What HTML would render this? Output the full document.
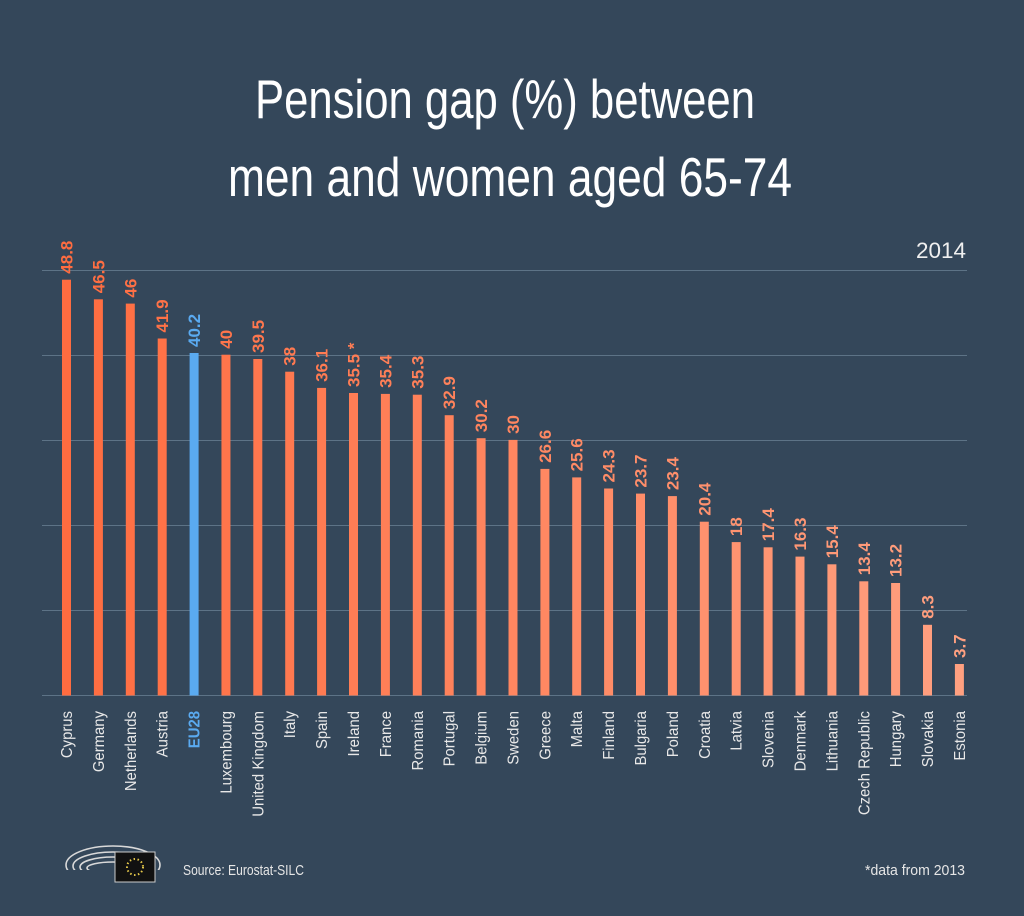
<!DOCTYPE html>
<html><head><meta charset="utf-8">
<style>
html,body{margin:0;padding:0;background:#34475a;}
svg{display:block}
.v{font-family:'Liberation Sans Narrow','Liberation Sans',sans-serif;font-weight:bold;font-size:17px}
.c{font-family:'Liberation Sans Narrow','Liberation Sans',sans-serif;font-size:16px;fill:#e8e8e8;text-anchor:end}
</style></head><body>
<svg width="1024" height="916" viewBox="0 0 1024 916" xmlns="http://www.w3.org/2000/svg">
<rect width="1024" height="916" fill="#34475a"/>
<g font-family="'Liberation Sans Narrow','Liberation Sans',sans-serif" fill="#ffffff">
<text x="505" y="118" font-size="55" text-anchor="middle" textLength="500" lengthAdjust="spacingAndGlyphs">Pension gap (%) between</text>
<text x="510" y="196" font-size="55" text-anchor="middle" textLength="564" lengthAdjust="spacingAndGlyphs">men and women aged 65-74</text>
<text x="966" y="258" font-size="22" text-anchor="end" fill="#f0f0f0" textLength="50" lengthAdjust="spacingAndGlyphs">2014</text>
</g>
<g stroke="#5d7386" stroke-width="1">
<line x1="42" x2="967" y1="270.5" y2="270.5"/>
<line x1="42" x2="967" y1="355.5" y2="355.5"/>
<line x1="42" x2="967" y1="440.5" y2="440.5"/>
<line x1="42" x2="967" y1="525.5" y2="525.5"/>
<line x1="42" x2="967" y1="610.5" y2="610.5"/>
<line x1="42" x2="967" y1="695.5" y2="695.5"/>
</g>
<g>
<rect x="62" y="279.7" width="9" height="415.8" fill="rgb(255,108,64)"/>
<rect x="93.9" y="299.3" width="9" height="396.2" fill="rgb(255,110,66)"/>
<rect x="125.8" y="303.6" width="9" height="391.9" fill="rgb(255,112,69)"/>
<rect x="157.7" y="338.5" width="9" height="357" fill="rgb(255,114,71)"/>
<rect x="189.6" y="353" width="9" height="342.5" fill="#5aaaf0"/>
<rect x="221.45" y="354.7" width="9" height="340.8" fill="rgb(255,117,75)"/>
<rect x="253.3" y="359" width="9" height="336.5" fill="rgb(255,119,78)"/>
<rect x="285.2" y="371.7" width="9" height="323.8" fill="rgb(255,121,80)"/>
<rect x="317.1" y="387.9" width="9" height="307.6" fill="rgb(255,123,82)"/>
<rect x="349" y="393" width="9" height="302.5" fill="rgb(255,125,85)"/>
<rect x="380.9" y="393.9" width="9" height="301.6" fill="rgb(255,127,87)"/>
<rect x="412.8" y="394.7" width="9" height="300.8" fill="rgb(255,128,89)"/>
<rect x="444.7" y="415.2" width="9" height="280.3" fill="rgb(255,130,91)"/>
<rect x="476.6" y="438.2" width="9" height="257.3" fill="rgb(255,132,94)"/>
<rect x="508.5" y="439.9" width="9" height="255.6" fill="rgb(255,134,96)"/>
<rect x="540.4" y="468.9" width="9" height="226.6" fill="rgb(255,136,98)"/>
<rect x="572.2" y="477.4" width="9" height="218.1" fill="rgb(255,138,101)"/>
<rect x="604.1" y="488.5" width="9" height="207" fill="rgb(255,140,103)"/>
<rect x="636" y="493.6" width="9" height="201.9" fill="rgb(255,141,105)"/>
<rect x="667.9" y="496.1" width="9" height="199.4" fill="rgb(255,143,107)"/>
<rect x="699.8" y="521.7" width="9" height="173.8" fill="rgb(255,145,110)"/>
<rect x="731.7" y="542.1" width="9" height="153.4" fill="rgb(255,147,112)"/>
<rect x="763.6" y="547.3" width="9" height="148.2" fill="rgb(255,149,114)"/>
<rect x="795.5" y="556.6" width="9" height="138.9" fill="rgb(255,151,117)"/>
<rect x="827.4" y="564.3" width="9" height="131.2" fill="rgb(255,153,119)"/>
<rect x="859.3" y="581.3" width="9" height="114.2" fill="rgb(255,154,121)"/>
<rect x="891.1" y="583" width="9" height="112.5" fill="rgb(255,156,123)"/>
<rect x="923" y="624.8" width="9" height="70.7" fill="rgb(255,158,126)"/>
<rect x="954.9" y="664" width="9" height="31.5" fill="rgb(255,160,128)"/>
</g>
<g class="v">
<text transform="translate(72.5,273.7) rotate(-90)" fill="rgb(255,108,64)">48.8</text>
<text transform="translate(104.4,293.3) rotate(-90)" fill="rgb(255,110,66)">46.5</text>
<text transform="translate(136.3,297.6) rotate(-90)" fill="rgb(255,112,69)">46</text>
<text transform="translate(168.2,332.5) rotate(-90)" fill="rgb(255,114,71)">41.9</text>
<text transform="translate(200.1,347) rotate(-90)" fill="#5aaaf0">40.2</text>
<text transform="translate(231.95,348.7) rotate(-90)" fill="rgb(255,117,75)">40</text>
<text transform="translate(263.8,353) rotate(-90)" fill="rgb(255,119,78)">39.5</text>
<text transform="translate(295.7,365.7) rotate(-90)" fill="rgb(255,121,80)">38</text>
<text transform="translate(327.6,381.9) rotate(-90)" fill="rgb(255,123,82)">36.1</text>
<text transform="translate(359.5,387) rotate(-90)" fill="rgb(255,125,85)">35.5 *</text>
<text transform="translate(391.4,387.9) rotate(-90)" fill="rgb(255,127,87)">35.4</text>
<text transform="translate(423.3,388.7) rotate(-90)" fill="rgb(255,128,89)">35.3</text>
<text transform="translate(455.2,409.2) rotate(-90)" fill="rgb(255,130,91)">32.9</text>
<text transform="translate(487.1,432.2) rotate(-90)" fill="rgb(255,132,94)">30.2</text>
<text transform="translate(519,433.9) rotate(-90)" fill="rgb(255,134,96)">30</text>
<text transform="translate(550.9,462.9) rotate(-90)" fill="rgb(255,136,98)">26.6</text>
<text transform="translate(582.7,471.4) rotate(-90)" fill="rgb(255,138,101)">25.6</text>
<text transform="translate(614.6,482.5) rotate(-90)" fill="rgb(255,140,103)">24.3</text>
<text transform="translate(646.5,487.6) rotate(-90)" fill="rgb(255,141,105)">23.7</text>
<text transform="translate(678.4,490.1) rotate(-90)" fill="rgb(255,143,107)">23.4</text>
<text transform="translate(710.3,515.7) rotate(-90)" fill="rgb(255,145,110)">20.4</text>
<text transform="translate(742.2,536.1) rotate(-90)" fill="rgb(255,147,112)">18</text>
<text transform="translate(774.1,541.3) rotate(-90)" fill="rgb(255,149,114)">17.4</text>
<text transform="translate(806,550.6) rotate(-90)" fill="rgb(255,151,117)">16.3</text>
<text transform="translate(837.9,558.3) rotate(-90)" fill="rgb(255,153,119)">15.4</text>
<text transform="translate(869.8,575.3) rotate(-90)" fill="rgb(255,154,121)">13.4</text>
<text transform="translate(901.6,577) rotate(-90)" fill="rgb(255,156,123)">13.2</text>
<text transform="translate(933.5,618.8) rotate(-90)" fill="rgb(255,158,126)">8.3</text>
<text transform="translate(965.4,658) rotate(-90)" fill="rgb(255,160,128)">3.7</text>
</g>
<g class="c">
<text transform="translate(72,711) rotate(-90) scale(0.93,1)">Cyprus</text>
<text transform="translate(103.9,711) rotate(-90) scale(0.93,1)">Germany</text>
<text transform="translate(135.8,711) rotate(-90) scale(0.93,1)">Netherlands</text>
<text transform="translate(167.7,711) rotate(-90) scale(0.93,1)">Austria</text>
<text transform="translate(199.6,711) rotate(-90) scale(0.93,1)" style="fill:#5aaaf0;font-weight:bold">EU28</text>
<text transform="translate(231.45,711) rotate(-90) scale(0.93,1)">Luxembourg</text>
<text transform="translate(263.3,711) rotate(-90) scale(0.93,1)">United Kingdom</text>
<text transform="translate(295.2,711) rotate(-90) scale(0.93,1)">Italy</text>
<text transform="translate(327.1,711) rotate(-90) scale(0.93,1)">Spain</text>
<text transform="translate(359,711) rotate(-90) scale(0.93,1)">Ireland</text>
<text transform="translate(390.9,711) rotate(-90) scale(0.93,1)">France</text>
<text transform="translate(422.8,711) rotate(-90) scale(0.93,1)">Romania</text>
<text transform="translate(454.7,711) rotate(-90) scale(0.93,1)">Portugal</text>
<text transform="translate(486.6,711) rotate(-90) scale(0.93,1)">Belgium</text>
<text transform="translate(518.5,711) rotate(-90) scale(0.93,1)">Sweden</text>
<text transform="translate(550.4,711) rotate(-90) scale(0.93,1)">Greece</text>
<text transform="translate(582.2,711) rotate(-90) scale(0.93,1)">Malta</text>
<text transform="translate(614.1,711) rotate(-90) scale(0.93,1)">Finland</text>
<text transform="translate(646,711) rotate(-90) scale(0.93,1)">Bulgaria</text>
<text transform="translate(677.9,711) rotate(-90) scale(0.93,1)">Poland</text>
<text transform="translate(709.8,711) rotate(-90) scale(0.93,1)">Croatia</text>
<text transform="translate(741.7,711) rotate(-90) scale(0.93,1)">Latvia</text>
<text transform="translate(773.6,711) rotate(-90) scale(0.93,1)">Slovenia</text>
<text transform="translate(805.5,711) rotate(-90) scale(0.93,1)">Denmark</text>
<text transform="translate(837.4,711) rotate(-90) scale(0.93,1)">Lithuania</text>
<text transform="translate(869.3,711) rotate(-90) scale(0.93,1)">Czech Republic</text>
<text transform="translate(901.1,711) rotate(-90) scale(0.93,1)">Hungary</text>
<text transform="translate(933,711) rotate(-90) scale(0.93,1)">Slovakia</text>
<text transform="translate(964.9,711) rotate(-90) scale(0.93,1)">Estonia</text>
</g>
<g font-family="'Liberation Sans Narrow','Liberation Sans',sans-serif" font-size="15" fill="#e6e6e6">
<text x="183" y="875" textLength="121" lengthAdjust="spacingAndGlyphs">Source: Eurostat-SILC</text>
<text x="965" y="875" text-anchor="end" textLength="100" lengthAdjust="spacingAndGlyphs">*data from 2013</text>
</g>
<g fill="none" stroke="#d9d9d9" stroke-width="1.6">
<ellipse cx="113" cy="865" rx="47" ry="19"/>
<ellipse cx="113" cy="866" rx="40" ry="14"/>
<ellipse cx="113" cy="867" rx="33" ry="10"/>
<ellipse cx="113" cy="868" rx="26" ry="6"/>
</g>
<rect x="66" y="870" width="94" height="20" fill="#34475a"/>
<rect x="115" y="852" width="40" height="30" fill="#111" stroke="#ccc" stroke-width="1"/>
<circle cx="135" cy="867" r="8" fill="none" stroke="#e5c84a" stroke-width="2" stroke-dasharray="1.5 2.5"/>
</svg>
</body></html>
